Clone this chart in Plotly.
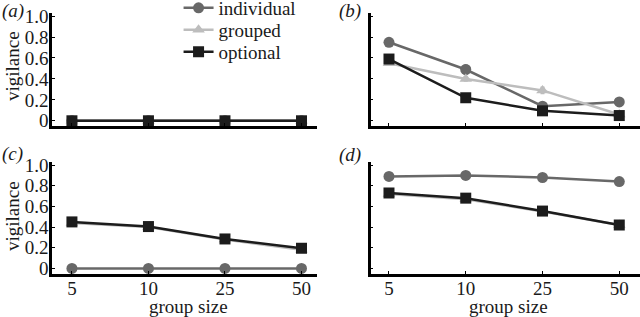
import plotly.graph_objects as go

groups = ["5", "10", "25", "50"]
series_names = ["individual", "grouped", "optional"]
colors = {"individual": "#686868", "grouped": "#bdbdbd", "optional": "#1c1c1c"}
symbols = {"individual": "circle", "grouped": "triangle-up", "optional": "square"}

# panel values
a_individual = [0.0, 0.0, 0.0, 0.0]
a_grouped = [0.0, 0.0, 0.0, 0.0]
a_optional = [0.0, 0.0, 0.0, 0.0]

b_individual = [0.75, 0.49, 0.14, 0.18]
b_grouped = [0.55, 0.40, 0.29, 0.06]
b_optional = [0.59, 0.22, 0.095, 0.05]

c_individual = [0.0, 0.0, 0.0, 0.0]
c_grouped = [0.44, 0.40, 0.28, 0.18]
c_optional = [0.45, 0.405, 0.285, 0.195]

d_individual = [0.89, 0.90, 0.88, 0.84]
d_grouped = [0.72, 0.67, 0.55, 0.42]
d_optional = [0.73, 0.68, 0.555, 0.42]

# error bars (estimated)
b_individual_err = [0.02, 0.04, 0.02, 0.04]
b_grouped_err = [0.02, 0.02, 0.03, 0.01]
b_optional_err = [0.02, 0.03, 0.02, 0.01]
zero_err = [0.0, 0.0, 0.0, 0.0]
small_err = [0.01, 0.01, 0.01, 0.01]

panels = [
    ("x1", "y1", {"individual": (a_individual, zero_err), "grouped": (a_grouped, zero_err), "optional": (a_optional, zero_err)}),
    ("x2", "y2", {"individual": (b_individual, b_individual_err), "grouped": (b_grouped, b_grouped_err), "optional": (b_optional, b_optional_err)}),
    ("x3", "y3", {"individual": (c_individual, zero_err), "grouped": (c_grouped, small_err), "optional": (c_optional, small_err)}),
    ("x4", "y4", {"individual": (d_individual, small_err), "grouped": (d_grouped, small_err), "optional": (d_optional, small_err)}),
]

FONT = "'Liberation Serif', 'Times New Roman', 'DejaVu Serif', serif"
TXT = "#1a1a1a"
FS = 19
legend_keys = {"individual": "legend", "grouped": "legend2", "optional": "legend3"}

fig = go.Figure()
xs = list(range(len(groups)))
for i, (xa, ya, data) in enumerate(panels):
    for name in series_names:
        vals, err = data[name]
        fig.add_trace(go.Scatter(
            x=xs, y=vals, xaxis=xa, yaxis=ya, name=name,
            mode="lines+markers",
            line=dict(color=colors[name], width=2.5),
            marker=dict(symbol=symbols[name], size=11, color=colors[name]),
            error_y=dict(type="data", array=err, color=colors[name], thickness=1.5, width=2),
            showlegend=(i == 0),
            legend=legend_keys[name],
            cliponaxis=False,
        ))

ytickvals = [0, 0.2, 0.4, 0.6, 0.8, 1.0]
yticktext = ["0", "0.2", "0.4", "0.6", "0.8", "1.0"]

common_axis = dict(showgrid=False, zeroline=False, showline=True, linecolor="black",
                   linewidth=2.5, ticks="inside", ticklen=3, tickwidth=1, tickcolor="black",
                   automargin=False,
                   tickfont=dict(family=FONT, size=FS, color=TXT))

top_dom = [0.6025, 0.959]
bot_dom = [0.137, 0.489]
left_dom = [0.0813, 0.495]
right_dom = [0.579, 1.0]

def leg(yc):
    return dict(x=0.279, y=yc, xanchor="left", yanchor="middle", bgcolor="rgba(0,0,0,0)",
                font=dict(family=FONT, size=FS, color=TXT), itemwidth=30)

layout = dict(
    width=640, height=317,
    margin=dict(l=0, r=0, t=0, b=0, autoexpand=False),
    paper_bgcolor="white", plot_bgcolor="white",
    font=dict(family=FONT, size=FS, color=TXT),
    legend=leg(1 - 8 / 317),
    legend2=leg(1 - 30 / 317),
    legend3=leg(1 - 52 / 317),
    showlegend=True,
)

axes_spec = {
    1: (left_dom, top_dom, [-0.26, 3.2], True, False),
    2: (right_dom, top_dom, [-0.24, 3.27], False, False),
    3: (left_dom, bot_dom, [-0.26, 3.2], True, True),
    4: (right_dom, bot_dom, [-0.24, 3.27], False, True),
}
for k, (xd, yd, xr, ylab, xlab) in axes_spec.items():
    xkey = "xaxis" if k == 1 else f"xaxis{k}"
    ykey = "yaxis" if k == 1 else f"yaxis{k}"
    layout[xkey] = dict(common_axis, domain=xd, range=xr, anchor=f"y{k}" if k > 1 else "y",
                        tickvals=xs, ticktext=groups if xlab else [""] * 4, ticklabelstandoff=-4)
    layout[ykey] = dict(common_axis, domain=yd, range=[-0.05, 1.03], anchor=f"x{k}" if k > 1 else "x",
                        tickvals=ytickvals, ticktext=yticktext if ylab else [""] * 6, ticklabelstandoff=-3)

fig.update_layout(**layout)

# axis titles
for yc in [1 - 66 / 317, 1 - 216 / 317]:
    fig.add_annotation(text="vigilance", x=12 / 640, y=yc, xref="paper", yref="paper",
                       textangle=-90, showarrow=False, xanchor="center", yanchor="middle",
                       font=dict(family=FONT, size=FS, color=TXT))
for xc in [188 / 640, 508 / 640]:
    fig.add_annotation(text="group size", x=xc, y=1 - 306 / 317, xref="paper", yref="paper",
                       showarrow=False, xanchor="center", yanchor="middle",
                       font=dict(family=FONT, size=FS, color=TXT))

labels = [("(a)", 0.0, 1 - 11 / 317), ("(b)", 337 / 640, 1 - 11 / 317),
          ("(c)", 0.0, 1 - 154 / 317), ("(d)", 337 / 640, 1 - 155 / 317)]
for t, x, y in labels:
    fig.add_annotation(text=f"<i>{t}</i>", x=x, y=y, xref="paper", yref="paper",
                       xanchor="left", yanchor="middle", showarrow=False,
                       font=dict(family=FONT, size=FS, color=TXT))

fig.write_html("out.html", config={"displayModeBar": False},
               post_script="document.body.style.margin='0';document.body.style.overflow='hidden';")
